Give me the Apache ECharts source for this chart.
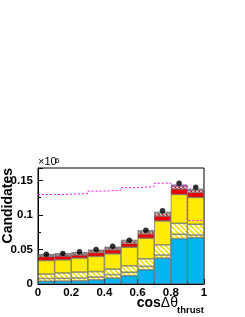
<!DOCTYPE html>
<html><head><meta charset="utf-8">
<script src="https://cdn.jsdelivr.net/npm/echarts@6/dist/echarts.min.js"></script>
<style>html,body{margin:0;padding:0;background:#fff}#c{width:245px;height:317px}</style>
</head><body><div id="c"></div>
<script>
// bin edges and labels
var binEdges = [0, 0.1, 0.2, 0.3, 0.4, 0.5, 0.6, 0.7, 0.8, 0.9, 1.0];
var binCenters = [0.05, 0.15, 0.25, 0.35, 0.45, 0.55, 0.65, 0.75, 0.85, 0.95];
var binCats = ['b1','b2','b3','b4','b5','b6','b7','b8','b9','b10'];
var xTickLabels = ['0', '0.2', '0.4', '0.6', '0.8', '1'];
var yTickLabels = ['0', '0.05', '0.1', '0.15'];
// stacked components (units of 10^6 candidates), bottom to top
var blueComp     = [0.0040, 0.0042, 0.0045, 0.0060, 0.0086, 0.0120, 0.0207, 0.0375, 0.0658, 0.0672];
var lowHatchComp = [0.0040, 0.0040, 0.0042, 0.0040, 0.0050, 0.0050, 0.0048, 0.0045, 0.0062, 0.0038];
var yHatchComp   = [0.0064, 0.0078, 0.0086, 0.0080, 0.0080, 0.0094, 0.0110, 0.0147, 0.0159, 0.0155];
var yellowComp   = [0.0196, 0.0190, 0.0202, 0.0220, 0.0221, 0.0269, 0.0298, 0.0346, 0.0418, 0.0389];
var redComp      = [0.0055, 0.0055, 0.0045, 0.0056, 0.0058, 0.0053, 0.0062, 0.0072, 0.0081, 0.0072];
var redHatchComp = [0.0020, 0.0020, 0.0023, 0.0024, 0.0025, 0.0029, 0.0030, 0.0035, 0.0037, 0.0032];
var grayComp     = [0.0020, 0.0022, 0.0017, 0.0017, 0.0020, 0.0025, 0.0025, 0.0027, 0.0025, 0.0022];
var dataPoints   = [0.043, 0.044, 0.0466, 0.050, 0.0548, 0.0634, 0.078, 0.106, 0.146, 0.140];
var signalShape  = [0.1295, 0.130, 0.131, 0.1345, 0.136, 0.1395, 0.141, 0.146, 0.142, 0.092];

function hatch(fg, bg, lw, sp) {
  var c = document.createElement('canvas');
  c.width = sp; c.height = sp;
  var g = c.getContext('2d');
  g.fillStyle = bg; g.fillRect(0, 0, sp, sp);
  g.strokeStyle = fg; g.lineWidth = lw;
  for (var k = -1; k <= 1; k++) {
    g.beginPath();
    g.moveTo(k * sp, 0); g.lineTo(k * sp + sp, sp);
    g.stroke();
  }
  return {image: c, repeat: 'repeat'};
}
var yellowHatch = hatch('#f5e000', '#ffffff', 1.8, 5);
var redHatch = hatch('#ee0000', '#ffffff', 1.5, 4);
var grayHatch = hatch('#777777', '#ffffff', 1.2, 3);

var chart = echarts.init(document.getElementById('c'), null, {renderer: 'canvas'});
var FONT = 'Liberation Sans, Arial, Helvetica, sans-serif';
function barSeries(name, vals, color) {
  return {
    name: name, type: 'bar', xAxisIndex: 1, stack: 'bkg', data: vals,
    barWidth: '100%', barCategoryGap: '0%',
    itemStyle: {color: color, borderColor: '#555', borderWidth: 0.6},
    silent: true
  };
}
var stepData = binEdges.slice(0, 10).map(function (e, i) { return [e, signalShape[i]]; });
stepData.push([binEdges[10], signalShape[9]]);

chart.setOption({
  animation: false,
  grid: {left: 38, right: 41, top: 168, bottom: 33, show: true, borderColor: '#000', borderWidth: 1, backgroundColor: 'transparent'},
  xAxis: [{
    type: 'value', min: 0, max: 1, interval: 0.2,
    axisLine: {show: true, lineStyle: {color: '#000', width: 1}},
    axisTick: {show: true, inside: true, length: 5, lineStyle: {color: '#000'}},
    minorTick: {show: true, splitNumber: 2, length: 3, lineStyle: {color: '#000'}},
    splitLine: {show: false},
    axisLabel: {margin: 3, color: '#000', fontFamily: FONT, fontWeight: 'bold', fontSize: 11.5,
      formatter: function (v) { return xTickLabels[Math.round(v / 0.2)]; }}
  }, {
    type: 'category', data: binCats, show: false, boundaryGap: true
  }],
  yAxis: [{
    type: 'value', min: 0, max: 0.168, interval: 0.05,
    axisLine: {show: true, lineStyle: {color: '#000', width: 1}},
    axisTick: {show: true, inside: true, length: 5, lineStyle: {color: '#000'}},
    minorTick: {show: true, splitNumber: 2, length: 3, lineStyle: {color: '#000'}},
    splitLine: {show: false},
    axisLabel: {margin: 5, color: '#000', fontFamily: FONT, fontWeight: 'bold', fontSize: 11.5, showMaxLabel: false,
      formatter: function (v) { var i = Math.round(v / 0.05); return yTickLabels[i] || ''; }}
  }],
  series: [
    barSeries('blue', blueComp, '#00b4f0'),
    barSeries('lowHatch', lowHatchComp, yellowHatch),
    barSeries('yHatch', yHatchComp, yellowHatch),
    barSeries('yellow', yellowComp, '#ffec00'),
    barSeries('red', redComp, '#ee0000'),
    barSeries('redHatch', redHatchComp, redHatch),
    barSeries('gray', grayComp, grayHatch),
    {
      type: 'line', xAxisIndex: 0, step: 'end', data: stepData, symbol: 'none', z: 5,
      lineStyle: {color: '#ff00ff', width: 1, type: [2, 2]}, silent: true
    },
    {
      type: 'scatter', xAxisIndex: 0, z: 6, symbolSize: 5.5,
      data: binCenters.map(function (c, i) { return [c, dataPoints[i]]; }),
      itemStyle: {color: '#000'}, silent: true
    }
  ],
  graphic: [
    {type: 'text', x: 8, y: 168, rotation: Math.PI / 2,
      style: {text: 'Candidates', align: 'right', verticalAlign: 'middle', fill: '#000',
        font: 'bold 14px ' + FONT}},
    {type: 'text', x: 38, y: 167,
      style: {text: '×10', align: 'left', verticalAlign: 'bottom', fill: '#000', font: '11px ' + FONT}},
    {type: 'text', x: 55, y: 157,
      style: {text: '6', align: 'left', verticalAlign: 'top', fill: '#000', font: '8px ' + FONT}},
    {type: 'text', x: 178, y: 310,
      style: {text: '{b|cos}{n|Δθ}', align: 'right', verticalAlign: 'bottom',
        rich: {b: {font: 'bold 14px ' + FONT, fill: '#000'}, n: {font: '14px ' + FONT, fill: '#000'}}}},
    {type: 'text', x: 204, y: 315,
      style: {text: 'thrust', align: 'right', verticalAlign: 'bottom', fill: '#000', font: 'bold 9.5px ' + FONT}}
  ]
});
</script>
</body></html>
